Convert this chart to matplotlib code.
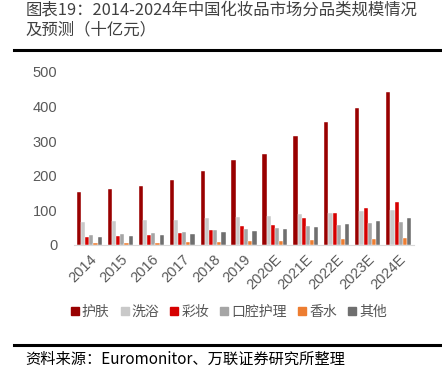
import numpy as np
import matplotlib
matplotlib.use("Agg")
import matplotlib.pyplot as plt
from matplotlib.lines import Line2D

plt.rcParams['font.family'] = ['Noto Sans CJK SC', 'DejaVu Sans']

years = ['2014', '2015', '2016', '2017', '2018', '2019',
         '2020E', '2021E', '2022E', '2023E', '2024E']
skin_care = [152, 162, 171, 188, 214, 245, 262, 315, 355, 397, 442]
bath = [66, 68, 71, 73, 77, 81, 84, 90, 93, 97, 101]
makeup = [22, 25, 28, 34, 43, 55, 58, 77, 93, 107, 124]
oral_care = [29, 32, 35, 38, 42, 46, 49, 54, 58, 63, 67]
perfume = [6, 6, 6, 7, 8, 10, 10, 14, 17, 18, 20]
other = [24, 26, 29, 32, 38, 41, 46, 53, 61, 68, 77]

names = ['护肤', '洗浴', '彩妆', '口腔护理', '香水', '其他']
colors = ['#990000', '#C9C9C9', '#D60000', '#A5A5A5', '#ED7D31', '#6F6F6F']
series = [skin_care, bath, makeup, oral_care, perfume, other]

fig = plt.figure(figsize=(4.42, 3.85), dpi=100)
ax = fig.add_axes([0.167, 0.364, 0.770, 0.449])

x = np.arange(len(years))
w = 0.135
for i, (vals, c) in enumerate(zip(series, colors)):
    ax.bar(x + (i - 2.5) * w, vals, width=w, color=c, edgecolor='white', linewidth=0.3)

ax.set_xlim(-0.5, len(years) - 0.5)
ax.set_ylim(0, 500)
ax.set_yticks(range(0, 501, 100))
ax.set_xticks(x)
ax.set_xticklabels(years, rotation=45, ha='right', rotation_mode='anchor',
                   family=['Liberation Sans'], fontsize=10.5, color='#595959')
for t in ax.get_yticklabels():
    t.set_family(['Liberation Sans'])
ax.tick_params(axis='y', labelsize=10.5, labelcolor='#595959', length=0, pad=12)
ax.tick_params(axis='x', length=0, pad=5)
for s in ['top', 'right', 'left']:
    ax.spines[s].set_visible(False)
ax.spines['bottom'].set_color('#D9D9D9')
ax.spines['bottom'].set_linewidth(0.8)

handles = [Line2D([], [], marker='s', linestyle='none', markersize=5.5,
                  markerfacecolor=c, markeredgecolor=c) for c in colors]
fig.legend(handles, names, loc='center', bbox_to_anchor=(0.518, 0.19), ncol=6,
           frameon=False, fontsize=10, handlelength=0.5, handletextpad=0.25,
           columnspacing=0.85, labelcolor='#555555')

fig.text(0.057, 0.974, '图表19：2014-2024年中国化妆品市场分品类规模情况',
         fontsize=11.8, color='#404040', va='center', ha='left')
fig.text(0.057, 0.922, '及预测（十亿元）', fontsize=11.8, color='#404040',
         va='center', ha='left')
fig.add_artist(Line2D([0.032, 1.0], [0.869, 0.869], color='black', linewidth=2.2))
fig.add_artist(Line2D([0.032, 1.0], [0.104, 0.104], color='black', linewidth=2.2))
fig.text(0.057, 0.068, '资料来源：Euromonitor、万联证券研究所整理', fontsize=11,
         style='italic', color='black', va='center', ha='left')

fig.savefig('out.png', dpi=100)
